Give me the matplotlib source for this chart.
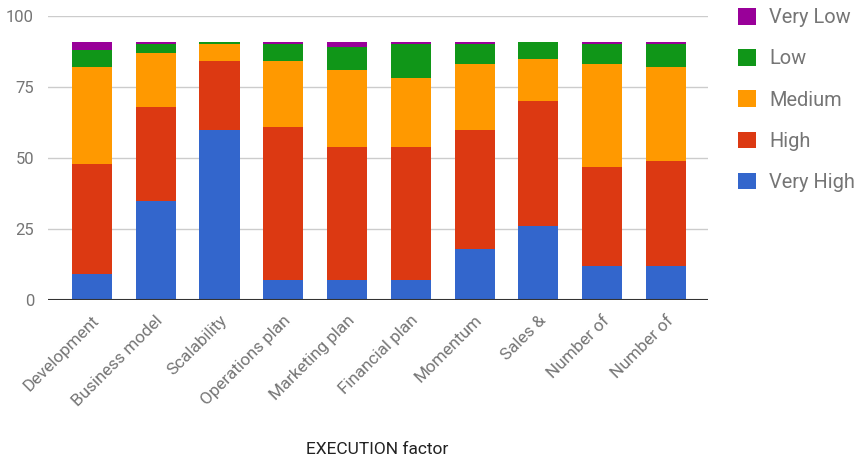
import numpy as np
import matplotlib
matplotlib.use("Agg")
import matplotlib.pyplot as plt
import matplotlib.transforms as mtransforms

plt.rcParams['font.family'] = ['Roboto', 'DejaVu Sans']

categories = ["Development", "Business model", "Scalability", "Operations plan",
              "Marketing plan", "Financial plan", "Momentum", "Sales &",
              "Number of", "Number of"]

# stacked from the bottom up
very_high = [9, 35, 60, 7, 7, 7, 18, 26, 12, 12]
high      = [39, 33, 24, 54, 47, 47, 42, 44, 35, 37]
medium    = [34, 19, 6, 23, 27, 24, 23, 15, 36, 33]
low       = [6, 3, 1, 6, 8, 12, 7, 6, 7, 8]
very_low  = [3, 1, 0, 1, 2, 1, 1, 0, 1, 1]

series = [("Very High", very_high, "#3366cc"),
          ("High", high, "#dc3912"),
          ("Medium", medium, "#ff9900"),
          ("Low", low, "#109618"),
          ("Very Low", very_low, "#990099")]

fig = plt.figure(figsize=(8.61, 4.62), dpi=100)
ax = fig.add_axes([48/861, 1 - 300/462, 660/861, 284/462])

x = np.arange(len(categories))
bottom = np.zeros(len(categories))
handles = []
for name, vals, col in series:
    vals = np.array(vals, dtype=float)
    b = ax.bar(x, vals, width=0.63, bottom=bottom, color=col, label=name, zorder=3)
    handles.append(b)
    bottom += vals

ax.set_xlim(-0.69, 9.66)
ax.set_ylim(0, 100)
ax.set_yticks([0, 25, 50, 75, 100])
ax.yaxis.grid(True, color="#cccccc", linewidth=1, zorder=0)
ax.axhline(0, color="#333333", linewidth=1.5, zorder=4)
for s in ax.spines.values():
    s.set_visible(False)
ax.tick_params(axis="both", length=0, labelsize=12, labelcolor="#757575")
ax.tick_params(axis="y", pad=10)
ax.tick_params(axis="x", pad=13, labelsize=12.3)

ax.set_xticks(x)
ax.set_xticklabels(categories, rotation=45, ha="right", va="center",
                   rotation_mode="anchor")
offset = mtransforms.ScaledTranslation(5/100, 0, fig.dpi_scale_trans)
for lbl in ax.get_xticklabels():
    lbl.set_transform(lbl.get_transform() + offset)

fig.text(377/861, 1 - 450/462, "EXECUTION factor", fontsize=12.5, color="#222222",
         ha="center", va="center")

leg = ax.legend(handles[::-1], [s[0] for s in series][::-1],
                loc="upper left", bbox_to_anchor=(738/861, 1 - 8/462),
                bbox_transform=fig.transFigure, frameon=False, fontsize=14.4,
                handlelength=0.9, handleheight=0.9, handletextpad=0.65,
                labelspacing=1.1, borderpad=0, borderaxespad=0)
for t in leg.get_texts():
    t.set_color("#757575")

fig.savefig("out.png", dpi=100)
